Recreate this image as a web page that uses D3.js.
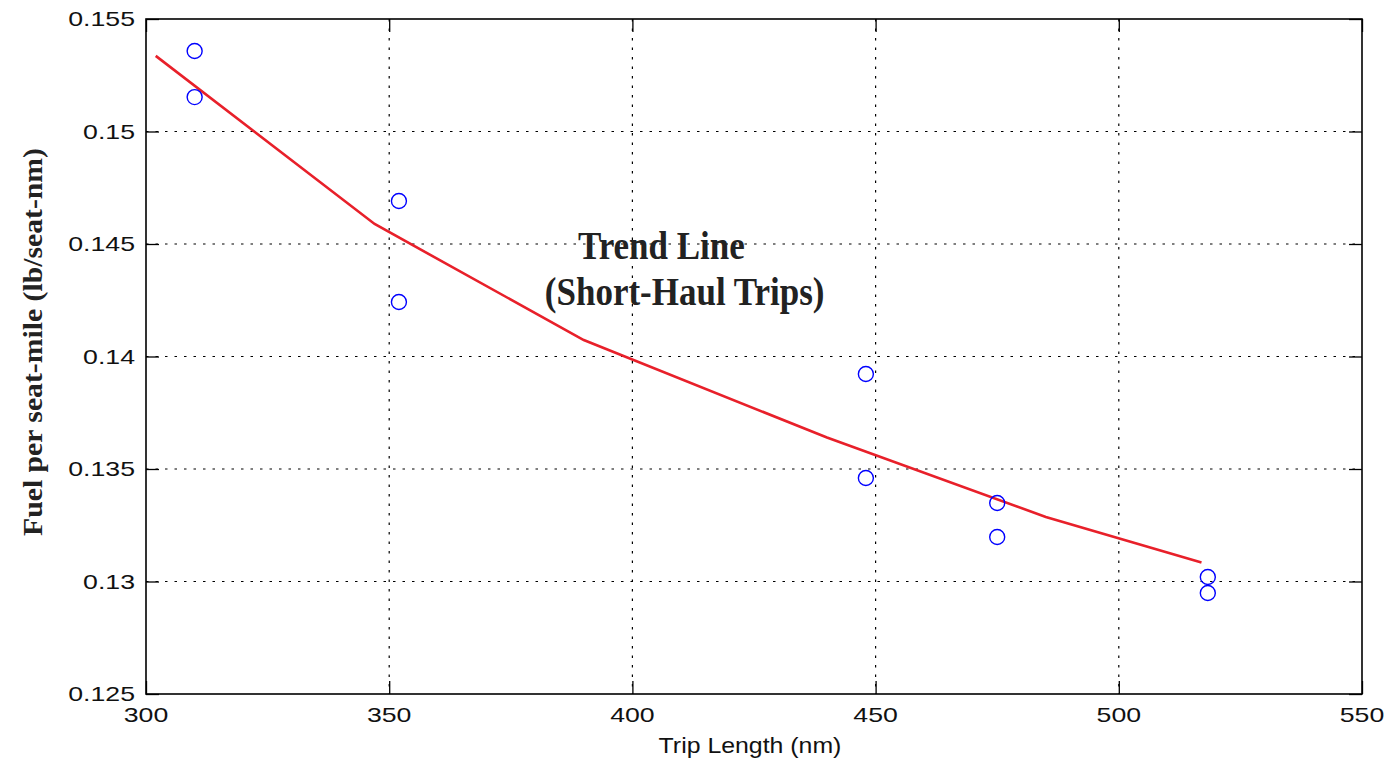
<!DOCTYPE html>
<html>
<head>
<meta charset="utf-8">
<script src="https://cdn.jsdelivr.net/npm/d3@7"></script>
<style>
  body { margin: 0; background: #fff; }
  svg { display: block; }
</style>
</head>
<body>
<div id="chart"></div>
<script>
// measured trips (nm) and fuel burn (lb/seat-nm)
const tripLength = [310, 310, 352, 352, 448, 448, 475, 475, 518.3, 518.3];
const fuelPerSeat = [0.15358, 0.15153, 0.14691, 0.14242, 0.13922, 0.1346, 0.13349, 0.13198, 0.1302, 0.12949];

// trend line vertices
const trendX = [302, 347, 390, 440, 485, 517];
const trendY = [0.15336, 0.14589, 0.14073, 0.13640, 0.13287, 0.13084];

const xTicks = [300, 350, 400, 450, 500, 550];
const yTicks = [0.125, 0.13, 0.135, 0.14, 0.145, 0.15, 0.155];
const yTickLabels = ['0.125', '0.13', '0.135', '0.14', '0.145', '0.15', '0.155'];

const W = 1387, H = 762;
const margin = { top: 19, right: 25, bottom: 68, left: 146 };
const width = W - margin.left - margin.right;
const height = H - margin.top - margin.bottom;

const svg = d3.select('#chart').append('svg')
  .attr('width', W)
  .attr('height', H);

const g = svg.append('g')
  .attr('transform', `translate(${margin.left},${margin.top})`);

const x = d3.scaleLinear().domain([300, 550]).range([0, width]);
const y = d3.scaleLinear().domain([0.125, 0.155]).range([height, 0]);

// dotted grid
g.append('g').selectAll('line')
  .data(xTicks.slice(1, -1))
  .enter().append('line')
  .attr('x1', d => x(d)).attr('x2', d => x(d))
  .attr('y1', 0).attr('y2', height)
  .attr('stroke', '#000').attr('stroke-width', 1.2)
  .attr('stroke-dasharray', '2.5,7');

g.append('g').selectAll('line')
  .data(yTicks.slice(1, -1))
  .enter().append('line')
  .attr('x1', 0).attr('x2', width)
  .attr('y1', d => y(d)).attr('y2', d => y(d))
  .attr('stroke', '#000').attr('stroke-width', 1.2)
  .attr('stroke-dasharray', '2.5,7');

// inward ticks on all four sides
const tickLen = 13;
function styleAxis(sel) {
  sel.select('.domain').remove();
  sel.selectAll('.tick line').attr('stroke', '#000').attr('stroke-width', 1.3);
  sel.selectAll('.tick text').remove();
}
g.append('g').attr('transform', `translate(0,${height})`)
  .call(d3.axisBottom(x).tickValues(xTicks).tickSize(-tickLen)).call(styleAxis);
g.append('g')
  .call(d3.axisTop(x).tickValues(xTicks).tickSize(-tickLen)).call(styleAxis);
g.append('g')
  .call(d3.axisLeft(y).tickValues(yTicks).tickSize(-tickLen)).call(styleAxis);
g.append('g').attr('transform', `translate(${width},0)`)
  .call(d3.axisRight(y).tickValues(yTicks).tickSize(-tickLen)).call(styleAxis);

// frame
g.append('rect')
  .attr('x', 0).attr('y', 0)
  .attr('width', width).attr('height', height)
  .attr('fill', 'none').attr('stroke', '#000').attr('stroke-width', 1.6);

// tick labels (wide Helvetica look)
const labelFont = 'Liberation Sans, Arial, Helvetica, sans-serif';
g.append('g').selectAll('text')
  .data(xTicks)
  .enter().append('text')
  .attr('transform', d => `translate(${x(d)},${height + 28}) scale(1.27,1)`)
  .attr('text-anchor', 'middle')
  .style('font-family', labelFont)
  .style('font-size', '21px')
  .attr('fill', '#111')
  .text(d => d);

g.append('g').selectAll('text')
  .data(yTicks)
  .enter().append('text')
  .attr('transform', d => `translate(-11,${y(d) + 7}) scale(1.27,1)`)
  .attr('text-anchor', 'end')
  .style('font-family', labelFont)
  .style('font-size', '21px')
  .attr('fill', '#111')
  .text((d, i) => yTickLabels[i]);

// axis titles
svg.append('text')
  .attr('transform', `translate(${margin.left + width / 2 - 4},${H - 9}) scale(1.13,1)`)
  .attr('text-anchor', 'middle')
  .style('font-family', labelFont)
  .style('font-size', '22px')
  .attr('fill', '#111')
  .text('Trip Length (nm)');

svg.append('text')
  .attr('transform', `translate(42,${342}) rotate(-90) scale(1.1,1)`)
  .attr('text-anchor', 'middle')
  .style('font-family', 'Liberation Serif, Times New Roman, serif')
  .style('font-weight', 'bold')
  .style('font-size', '27px')
  .attr('fill', '#222')
  .text('Fuel per seat-mile (lb/seat-nm)');

// trend line
const line = d3.line()
  .x((d, i) => x(trendX[i]))
  .y(d => y(d));

g.append('path')
  .datum(trendY)
  .attr('d', line)
  .attr('fill', 'none')
  .attr('stroke', '#e8202a')
  .attr('stroke-width', 2.6);

// data points
g.append('g').selectAll('circle')
  .data(fuelPerSeat)
  .enter().append('circle')
  .attr('cx', (d, i) => x(tripLength[i]))
  .attr('cy', d => y(d))
  .attr('r', 7.5)
  .attr('fill', 'none')
  .attr('stroke', '#0000ff')
  .attr('stroke-width', 1.4);

// annotation
const notes = [
  { text: 'Trend Line', tx: 388.8, ty: 0.14433 },
  { text: '(Short-Haul Trips)', tx: 382.0, ty: 0.14229 }
];
g.append('g').selectAll('text')
  .data(notes)
  .enter().append('text')
  .attr('transform', d => `translate(${x(d.tx)},${y(d.ty)}) scale(1,1.15)`)
  .style('font-family', 'Liberation Serif, Times New Roman, serif')
  .style('font-weight', 'bold')
  .style('font-size', '35px')
  .attr('fill', '#222')
  .text(d => d.text);
</script>
</body>
</html>
